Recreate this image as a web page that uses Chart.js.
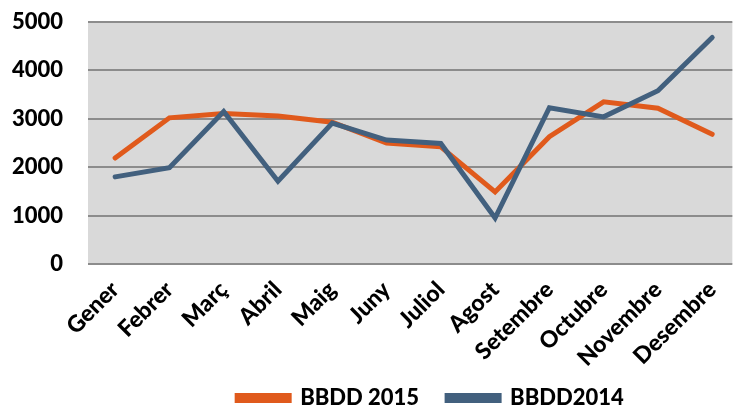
<!DOCTYPE html>
<html lang="ca">
<head>
    <meta charset="UTF-8">
    <title>BBDD 2015 vs BBDD2014</title>
    <script src="https://cdn.jsdelivr.net/npm/chart.js"></script>
    <style>
        body { margin: 0; padding: 0; background: #ffffff; }
        .wrap { width: 737px; height: 409px; }
    </style>
</head>
<body>
    <div class="wrap"><canvas id="chart" width="737" height="409"></canvas></div>
    <script>
        const months = ['Gener', 'Febrer', 'Març', 'Abril', 'Maig', 'Juny', 'Juliol', 'Agost', 'Setembre', 'Octubre', 'Novembre', 'Desembre'];
        const bbdd2015 = [2190, 3020, 3110, 3060, 2930, 2500, 2420, 1490, 2630, 3350, 3220, 2680];
        const bbdd2014 = [1800, 1990, 3150, 1710, 2910, 2560, 2490, 950, 3230, 3040, 3580, 4680];
        const yTicks = [0, 1000, 2000, 3000, 4000, 5000];

        const fontFamily = 'Lato, "Open Sans", Arial, sans-serif';

        // grey plot area like the spreadsheet original
        const plotBg = {
            id: 'plotBg',
            beforeDraw(chart) {
                const a = chart.chartArea;
                const ctx = chart.ctx;
                ctx.save();
                ctx.fillStyle = '#d9d9d9';
                ctx.fillRect(a.left, a.top, a.right - a.left, a.bottom - a.top);
                ctx.restore();
            }
        };

        // the original was cropped on the right: the x axis runs a little past the edge,
        // and the legend sits right of centre and low on the page
        const layoutNudge = {
            id: 'layoutNudge',
            afterLayout(chart) {
                const x = chart.scales.x;
                x.right += 7;
                x.width += 7;
                x.configure();

                const lg = chart.legend;
                lg.left += 58;
                lg.right += 58;
                lg.top = 359;
                lg.bottom = 409;
                lg.height = 50;
            }
        };

        new Chart(document.getElementById('chart'), {
            type: 'line',
            data: {
                labels: months,
                datasets: [{
                    label: 'BBDD 2015',
                    data: bbdd2015,
                    borderColor: '#e05a1c',
                    backgroundColor: '#e05a1c',
                    borderWidth: 5,
                    pointRadius: 0,
                    borderCapStyle: 'round',
                    tension: 0,
                    order: 1
                }, {
                    label: 'BBDD2014',
                    data: bbdd2014,
                    borderColor: '#42607e',
                    backgroundColor: '#42607e',
                    borderWidth: 5,
                    pointRadius: 0,
                    borderCapStyle: 'round',
                    tension: 0,
                    order: 0
                }]
            },
            options: {
                responsive: false,
                animation: false,
                layout: { padding: { left: 8, right: 0, top: 22, bottom: 0 } },
                plugins: {
                    tooltip: { enabled: false },
                    legend: {
                        position: 'bottom',
                        maxHeight: 30,
                        labels: {
                            boxWidth: 52,
                            boxHeight: 5,
                            padding: 28,
                            color: '#000',
                            sort: (a, b) => a.datasetIndex - b.datasetIndex,
                            font: { family: fontFamily, size: 22, weight: 900 }
                        }
                    }
                },
                scales: {
                    x: {
                        offset: true,
                        grid: { display: false, drawTicks: false },
                        border: { display: false },
                        afterFit(scale) { scale.height = 115; },
                        ticks: {
                            minRotation: 45,
                            maxRotation: 45,
                            color: '#000',
                            padding: 12,
                            font: { family: fontFamily, size: 23, weight: 900 }
                        }
                    },
                    y: {
                        min: 0,
                        max: 5000,
                        afterBuildTicks(scale) {
                            scale.ticks = yTicks.map(v => ({ value: v }));
                        },
                        afterFit(scale) { scale.width = 80; scale.paddingTop = 0; scale.paddingBottom = 0; },
                        border: { display: false },
                        grid: { color: '#8c8c8c', lineWidth: 2, drawTicks: false },
                        ticks: {
                            color: '#000',
                            padding: 25,
                            callback: v => String(v),
                            font: { family: fontFamily, size: 22, weight: 900 }
                        }
                    }
                }
            },
            plugins: [plotBg, layoutNudge]
        });
    </script>
</body>
</html>
